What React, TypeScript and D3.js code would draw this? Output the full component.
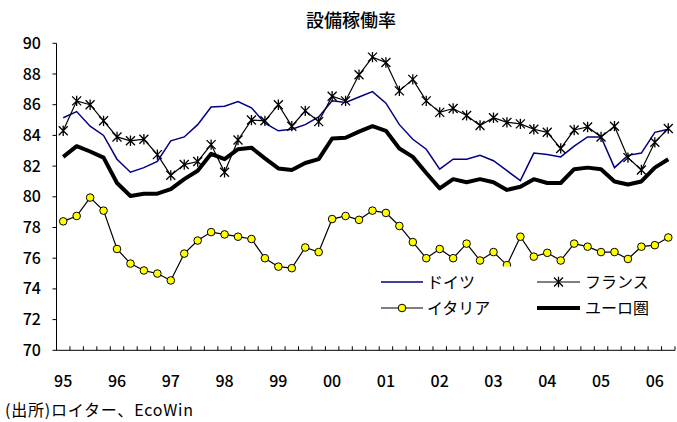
import React from "react";
import * as d3 from "d3";

const years = ["95", "96", "97", "98", "99", "00", "01", "02", "03", "04", "05", "06"];
const quarters: string[] = [];
years.forEach((y, i) => {
  const n = i === years.length - 1 ? 2 : 4;
  for (let q = 1; q <= n; q++) quarters.push(`${y}Q${q}`);
});

const germany = [85.15, 85.55, 84.6, 84.0, 82.45, 81.6, 81.9, 82.3, 83.65, 83.9, 84.7, 85.85, 85.9, 86.2, 85.8, 84.8, 84.3, 84.4, 84.7, 85.2, 86.25, 86.15, 86.5, 86.85, 86.1, 84.7, 83.75, 83.1, 81.8, 82.45, 82.45, 82.7, 82.35, 81.7, 81.05, 82.85, 82.75, 82.6, 83.3, 83.9, 83.9, 81.9, 82.7, 82.85, 84.2, 84.4];
const france = [84.3, 86.25, 86.0, 84.95, 83.9, 83.65, 83.75, 82.75, 81.4, 82.1, 82.3, 83.4, 81.6, 83.7, 85.0, 84.95, 86.0, 84.6, 85.6, 84.9, 86.55, 86.25, 87.95, 89.1, 88.75, 86.9, 87.65, 86.25, 85.5, 85.75, 85.3, 84.65, 85.15, 84.85, 84.75, 84.4, 84.2, 83.15, 84.35, 84.55, 83.9, 84.6, 82.55, 81.75, 83.55, 84.45];
const italy = [78.4, 78.75, 79.95, 79.1, 76.6, 75.65, 75.2, 75.0, 74.55, 76.3, 77.15, 77.7, 77.55, 77.4, 77.25, 76.0, 75.45, 75.35, 76.7, 76.4, 78.55, 78.75, 78.5, 79.1, 78.95, 78.1, 77.05, 76.0, 76.6, 76.0, 76.95, 75.85, 76.4, 75.55, 77.4, 76.1, 76.35, 75.85, 76.95, 76.75, 76.4, 76.4, 75.95, 76.75, 76.85, 77.35];
const euro = [82.6, 83.3, 82.95, 82.55, 80.9, 80.05, 80.2, 80.2, 80.5, 81.15, 81.7, 82.8, 82.45, 83.1, 83.2, 82.5, 81.85, 81.75, 82.2, 82.45, 83.8, 83.85, 84.25, 84.6, 84.3, 83.15, 82.6, 81.55, 80.55, 81.15, 80.95, 81.15, 80.95, 80.45, 80.65, 81.15, 80.9, 80.9, 81.8, 81.9, 81.8, 81.0, 80.8, 81.0, 81.9, 82.45];
const yTicks = [70, 72, 74, 76, 78, 80, 82, 84, 86, 88, 90];

const title = "設備稼働率";
const source = "(出所)ロイター、EcoWin";
const legendNames = ["ドイツ", "フランス", "イタリア", "ユーロ圏"];

const W = 677, H = 422;
const FONT = "'Noto Sans CJK JP', 'Liberation Sans', sans-serif";

export default function App() {
  const x = d3.scaleBand<string>().domain(quarters).range([56.5, 675]).padding(0);
  const y = d3.scaleLinear().domain([70, 90]).range([350.3, 43.3]);
  const cx = (i: number) => (x(quarters[i]) as number) + x.bandwidth() / 2;
  const line = d3.line<number>().x((_, i) => cx(i)).y((d) => y(d));
  const x0 = 56.5, x1 = 675, yb = y(70), yt = y(90);

  const star = (px: number, py: number, s = 4.5) =>
    `M${px - s},${py - s}L${px + s},${py + s}M${px - s},${py + s}L${px + s},${py - s}M${px},${py - s * 1.15}L${px},${py + s * 1.15}`;

  const bounds = [...quarters.map((q) => x(q) as number), x1];

  const lx1 = 381, lx2 = 423, lx3 = 537, lx4 = 580;
  const r1 = 282, r2 = 308;

  return (
    <svg width={W} height={H} style={{ position: "absolute", left: 0, top: 0, background: "#fff" }} fontFamily={FONT}>
      <rect x={0} y={0} width={W} height={H} fill="#fff" />
      <text x={351} y={27} textAnchor="middle" fontSize={18} fontWeight={500}>{title}</text>

      {/* axes */}
      <line x1={x0} x2={x0} y1={yt} y2={yb} stroke="#000" strokeWidth={1} />
      <line x1={x0} x2={x1} y1={yb} y2={yb} stroke="#000" strokeWidth={1} />
      {yTicks.map((t) => (
        <g key={t}>
          <line x1={x0 - 4} x2={x0} y1={y(t)} y2={y(t)} stroke="#000" />
          <text x={41} y={y(t) + 5.5} textAnchor="end" fontSize={16} fontWeight={500}>{t}</text>
        </g>
      ))}
      {bounds.map((b, i) => (
        <line key={i} x1={b} x2={b} y1={yb} y2={yb - 4} stroke="#000" />
      ))}
      {years.map((yr, i) => (
        <text key={yr} x={cx(i * 4)} y={387} textAnchor="middle" fontSize={16} fontWeight={500}>{yr}</text>
      ))}

      {/* series */}
      <path d={line(germany) || ""} fill="none" stroke="#000080" strokeWidth={1.5} />
      <path d={line(france) || ""} fill="none" stroke="#000" strokeWidth={1.2} />
      {france.map((v, i) => (
        <path key={i} d={star(cx(i), y(v))} stroke="#000" strokeWidth={1.3} fill="none" />
      ))}
      <path d={line(italy) || ""} fill="none" stroke="#000" strokeWidth={1.2} />
      {italy.map((v, i) => (
        <circle key={i} cx={cx(i)} cy={y(v)} r={3.8} fill="#ffff00" stroke="#000" strokeWidth={1} />
      ))}
      <path d={line(euro) || ""} fill="none" stroke="#000" strokeWidth={4} strokeLinejoin="round" />

      {/* legend */}
      <rect x={372} y={266.5} width={300} height={56} fill="#fff" />
      <line x1={lx1} x2={lx2} y1={r1} y2={r1} stroke="#000080" strokeWidth={1.5} />
      <text x={427} y={r1 + 6} fontSize={16}>{legendNames[0]}</text>
      <line x1={lx3} x2={lx4} y1={r1} y2={r1} stroke="#000" strokeWidth={1.2} />
      <path d={star((lx3 + lx4) / 2, r1)} stroke="#000" strokeWidth={1.3} fill="none" />
      <text x={585} y={r1 + 6} fontSize={16}>{legendNames[1]}</text>
      <line x1={lx1} x2={lx2} y1={r2} y2={r2} stroke="#000" strokeWidth={1.2} />
      <circle cx={(lx1 + lx2) / 2} cy={r2} r={3.8} fill="#ffff00" stroke="#000" />
      <text x={427} y={r2 + 6} fontSize={16}>{legendNames[2]}</text>
      <line x1={lx3} x2={lx4} y1={r2} y2={r2} stroke="#000" strokeWidth={4} />
      <text x={585} y={r2 + 6} fontSize={16}>{legendNames[3]}</text>

      <text x={5} y={416} fontSize={16} textLength={188} lengthAdjust="spacing">{source}</text>
    </svg>
  );
}
